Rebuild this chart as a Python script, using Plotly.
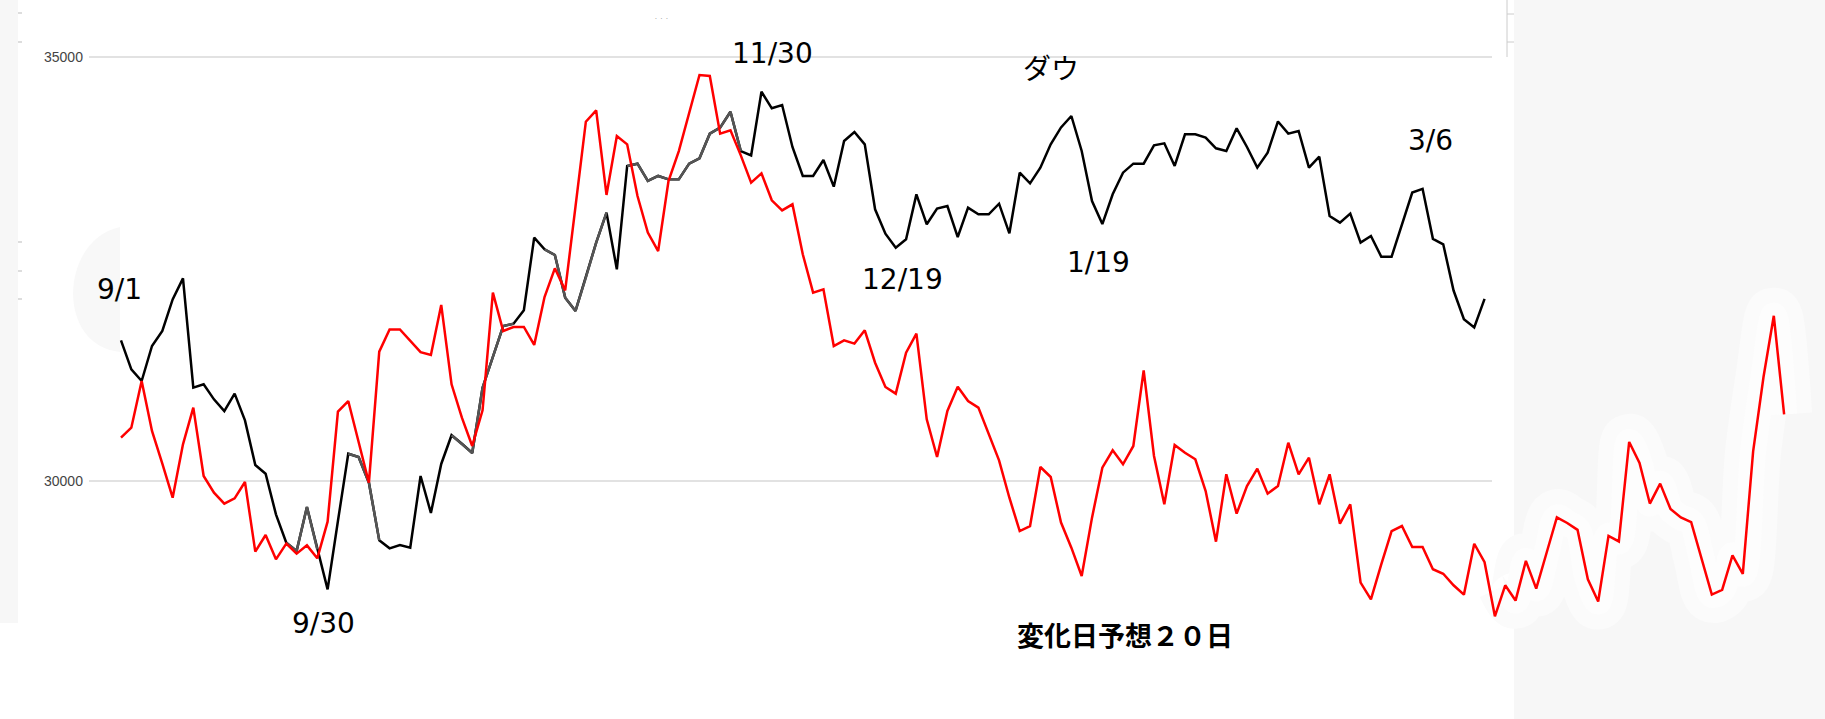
import plotly.graph_objs as go

# ダウ (black) and 予想 (red) - daily closes from 9/1
dow = [31659, 31317, 31179, 31592, 31769, 32142, 32390, 31101, 31140, 30963,
       30825, 31030, 30715, 30189, 30086, 29607, 29273, 29174, 29693, 29194,
       28722, 29528, 30322, 30283, 29980, 29300, 29206, 29245, 29214, 30059,
       29623, 30201, 30540, 30440, 30330, 31100, 31474, 31828, 31855, 32013,
       32870, 32732, 32665, 32162, 32005, 32398, 32811, 33164, 32496, 33715,
       33742, 33538, 33597, 33557, 33557, 33742, 33805, 34096, 34167, 34355,
       33891, 33840, 34591, 34395, 34434, 33939, 33597, 33597, 33785, 33471,
       34009, 34116, 33970, 33204, 32917, 32752, 32850, 33380, 33027, 33212,
       33243, 32877, 33223, 33145, 33145, 33270, 32921, 33636, 33510, 33695,
       33970, 34170, 34304, 33892, 33302, 33030, 33381, 33636, 33742, 33742,
       33958, 33982, 33715, 34088, 34088, 34049, 33923, 33892, 34159, 33939,
       33695, 33872, 34240, 34096, 34127, 33695, 33825, 33125, 33047, 33153,
       32811, 32889, 32645, 32645, 33020, 33402, 33445, 32856, 32791, 32246,
       31908, 31810, 32148]

forecast = [30511, 30629, 31179, 30590, 30204, 29803, 30432, 30865, 30059, 29862,
            29733, 29796, 29988, 29167, 29363, 29076, 29261, 29143, 29241, 29088,
            29520, 30818, 30943, 30452, 29980, 31525, 31788, 31788, 31651, 31520,
            31486, 32076, 31140, 30747, 30413, 30834, 32221, 31769, 31816, 31816,
            31604, 32170, 32508, 32248, 33239, 34237, 34371, 33373, 34068, 33970,
            33361, 32929, 32712, 33538, 33891, 34344, 34788, 34776, 34096, 34135,
            33840, 33518, 33628, 33310, 33192, 33263, 32673, 32221, 32260, 31592,
            31659, 31620, 31777, 31395, 31109, 31030, 31513, 31738, 30727, 30283,
            30826, 31112, 30943, 30865, 30550, 30244, 29803, 29410, 29469, 30165,
            30047, 29510, 29214, 28880, 29568, 30157, 30362, 30197, 30413, 31305,
            30295, 29725, 30425, 30334, 30256, 29882, 29285, 30079, 29615, 29941,
            30145, 29851, 29941, 30452, 30079, 30275, 29725, 30079, 29497, 29725,
            28801, 28605, 29017, 29410, 29469, 29222, 29222, 28960, 28906, 28770,
            28660, 29260, 29042, 28404, 28770, 28590, 29058, 28731, 29151, 29571,
            29505, 29424, 28840, 28579, 29353, 29287, 30460, 30214, 29734, 29969,
            29669, 29571, 29516, 29096, 28660, 28715, 29124, 28906, 30350, 31223,
            31948, 30787]

# segments of the dow line that were drawn in dark gray (start index of each segment)
gray_starts = [16, 17, 18, 22, 23, 24, 32, 33, 34, 35, 36, 37, 41, 42,
               44, 45, 46, 49, 50, 51, 52, 53, 54, 56, 57, 58, 59]

y_ticks = [30000, 35000]
y_ticktext = ['30000', '35000']

# turning dates, placed by hand
labels = ['9/1', '9/30', '11/30', '12/19', '1/19', '3/6', 'ダウ']
label_px = [(120, 289), (323, 623), (772, 54), (902, 280), (1098, 262), (1430, 141), (1051, 67)]
note = '変化日予想２０日'

W, H = 1825, 719
x_dow = list(range(len(dow)))
x_fc = list(range(len(forecast)))

gray_y = [None] * len(dow)
for s in gray_starts:
    gray_y[s] = dow[s]
    gray_y[s + 1] = dow[s + 1]

halo_from = 134
halo_x = x_fc[halo_from:]
halo_y = forecast[halo_from:]

fig = go.Figure()
# faint light glow around the red line on the grey panel
fig.add_trace(go.Scatter(x=halo_x, y=halo_y, mode='lines', line=dict(color='#fbfbfb', width=56, shape='spline'),
                         hoverinfo='skip'))
fig.add_trace(go.Scatter(x=halo_x, y=halo_y, mode='lines', line=dict(color='#fdfdfd', width=26, shape='spline'),
                         hoverinfo='skip'))
fig.add_trace(go.Scatter(x=x_dow, y=dow, mode='lines', name='ダウ', line=dict(color='black', width=2.5)))
fig.add_trace(go.Scatter(x=x_dow, y=gray_y, mode='lines', name='', line=dict(color='#555555', width=2.5),
                         connectgaps=False, hoverinfo='skip'))
fig.add_trace(go.Scatter(x=x_fc, y=forecast, mode='lines', name='予想', line=dict(color='#ff0000', width=2.5)))

def px(x, y):
    return x / W, 1 - y / H

shapes = []
# background panels from the original screenshot
shapes.append(dict(type='rect', xref='paper', yref='paper', x0=0, x1=18 / W, y0=1 - 623 / H, y1=1,
                   fillcolor='#f7f7f7', line_width=0, layer='below'))
shapes.append(dict(type='rect', xref='paper', yref='paper', x0=1514 / W, x1=1, y0=0, y1=1,
                   fillcolor='#f7f7f7', line_width=0, layer='below'))
shapes.append(dict(type='path', xref='paper', yref='paper', layer='below', fillcolor='#f8f8f8', line_width=0,
                   path='M %f,%f C %f,%f %f,%f %f,%f Z' % (120 / W, 1 - 227 / H, 60 / W, 1 - 240 / H,
                                                          55 / W, 1 - 345 / H, 120 / W, 1 - 352 / H)))
# grid lines
for v in y_ticks:
    shapes.append(dict(type='line', xref='paper', yref='y', x0=89 / W, x1=1492 / W, y0=v, y1=v,
                       line=dict(color='#d9d9d9', width=1.3), layer='below'))
# small leftover axis marks
for yy in [13, 42, 242, 271, 299]:
    shapes.append(dict(type='line', xref='paper', yref='paper', x0=18 / W, x1=22 / W,
                       y0=1 - yy / H, y1=1 - yy / H, line=dict(color='#bbbbbb', width=1)))
shapes.append(dict(type='line', xref='paper', yref='paper', x0=1507 / W, x1=1507 / W, y0=1 - 57 / H, y1=1,
                   line=dict(color='#cccccc', width=1)))
for yy in [14, 42]:
    shapes.append(dict(type='line', xref='paper', yref='paper', x0=1507 / W, x1=1514 / W,
                       y0=1 - yy / H, y1=1 - yy / H, line=dict(color='#cccccc', width=1)))

annotations = []
for t, (lx, ly) in zip(labels, label_px):
    fx, fy = px(lx, ly)
    fam = 'Noto Sans CJK JP' if t == 'ダウ' else 'DejaVu Sans'
    annotations.append(dict(text=t, x=fx, y=fy, xref='paper', yref='paper', showarrow=False,
                            xanchor='center', yanchor='middle', font=dict(family=fam, size=28, color='black')))
fx, fy = px(1125, 634)
annotations.append(dict(text='<b>' + note + '</b>', x=fx, y=fy, xref='paper', yref='paper', showarrow=False,
                        xanchor='center', yanchor='middle',
                        font=dict(family='Noto Sans CJK JP', size=27, color='black')))
fx, fy = px(661, 12)
annotations.append(dict(text='·  ·  ·', x=fx, y=fy, xref='paper', yref='paper', showarrow=False,
                        font=dict(size=7, color='#777777')))

# pixel -> data mapping: x_pix = 121 + 10.33*i ; y 35000 at 57px, 30000 at 481px
step = 10.33
per_px = 5000 / (481 - 57)
x_range = [-121 / step, (W - 121) / step]
y_range = [35000 - (H - 57) * per_px, 35000 + 57 * per_px]

fig['layout'].update(width=W, height=H, autosize=False, showlegend=False,
                     margin=dict(l=0, r=0, t=0, b=0, pad=0),
                     paper_bgcolor='white', plot_bgcolor='rgba(0,0,0,0)',
                     shapes=shapes, annotations=annotations,
                     xaxis=dict(range=x_range, visible=False, fixedrange=True),
                     yaxis=dict(range=y_range, tickvals=y_ticks, ticktext=y_ticktext, showgrid=False,
                                zeroline=False, showline=False, ticks='', ticklabelposition='inside',
                                ticklabelstandoff=41, fixedrange=True,
                                tickfont=dict(family='Liberation Sans', size=14, color='#444444')))

# drop the default page margin so the chart fills the window
fig.write_html("out.html", config={'displayModeBar': False},
               post_script="document.body.style.margin='0';document.body.style.overflow='hidden';")
